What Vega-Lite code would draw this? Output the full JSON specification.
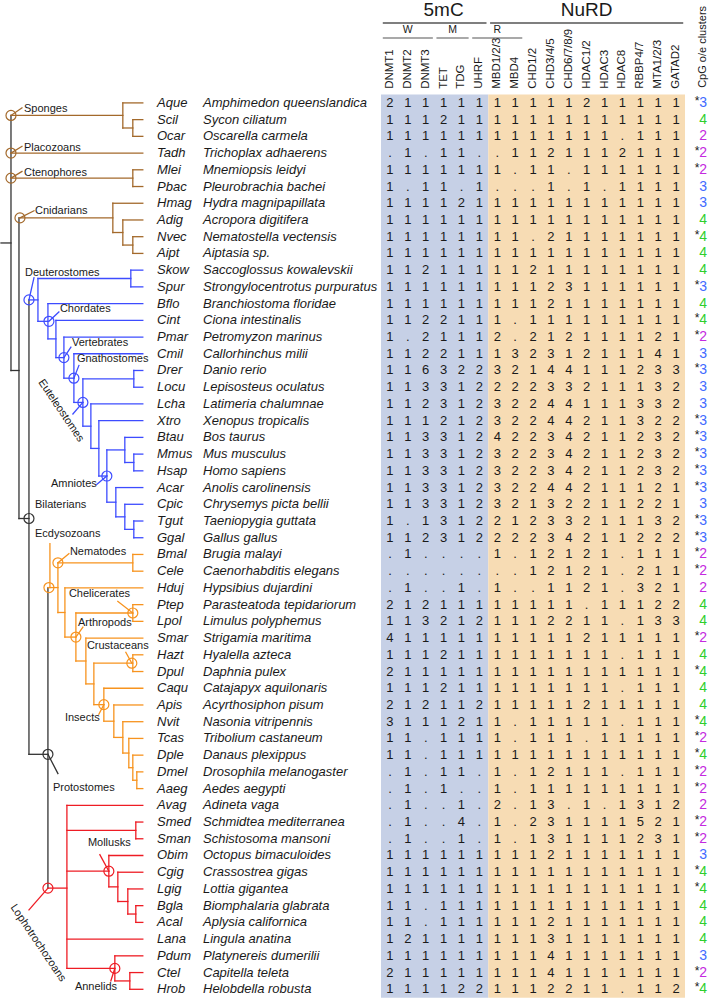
{
"$schema":"https://vega.github.io/schema/vega-lite/v6.json",
"width":709,"height":1001,
"autosize":{"type":"fit","contains":"padding"},
"padding":0,
"background":"white",
"config":{"view":{"stroke":null},"text":{"font":"Liberation Sans","color":"#1a1a1a"}},
"datasets":{
"species":[
{"row":1,"ab":"Aque","name":"Amphimedon queenslandica","DNMT1":"2","DNMT2":"1","DNMT3":"1","TET":"1","TDG":"1","UHRF":"1","MBD1/2/3":"1","MBD4":"1","CHD1/2":"1","CHD3/4/5":"1","CHD6/7/8/9":"1","HDAC1/2":"2","HDAC3":"1","HDAC8":"1","RBBP4/7":"1","MTA1/2/3":"1","GATAD2":"1","star":"*","cpg":3},
{"row":2,"ab":"Scil","name":"Sycon ciliatum","DNMT1":"1","DNMT2":"1","DNMT3":"1","TET":"2","TDG":"1","UHRF":"1","MBD1/2/3":"1","MBD4":"1","CHD1/2":"1","CHD3/4/5":"1","CHD6/7/8/9":"1","HDAC1/2":"1","HDAC3":"1","HDAC8":"1","RBBP4/7":"1","MTA1/2/3":"1","GATAD2":"1","star":"","cpg":4},
{"row":3,"ab":"Ocar","name":"Oscarella carmela","DNMT1":"1","DNMT2":"1","DNMT3":"1","TET":"1","TDG":"1","UHRF":"1","MBD1/2/3":"1","MBD4":"1","CHD1/2":"1","CHD3/4/5":"1","CHD6/7/8/9":"1","HDAC1/2":"1","HDAC3":"1","HDAC8":".","RBBP4/7":"1","MTA1/2/3":"1","GATAD2":"1","star":"","cpg":2},
{"row":4,"ab":"Tadh","name":"Trichoplax adhaerens","DNMT1":".","DNMT2":"1","DNMT3":".","TET":"1","TDG":"1","UHRF":".","MBD1/2/3":".","MBD4":"1","CHD1/2":"1","CHD3/4/5":"2","CHD6/7/8/9":"1","HDAC1/2":"1","HDAC3":"1","HDAC8":"2","RBBP4/7":"1","MTA1/2/3":"1","GATAD2":"1","star":"*","cpg":2},
{"row":5,"ab":"Mlei","name":"Mnemiopsis leidyi","DNMT1":"1","DNMT2":"1","DNMT3":"1","TET":"1","TDG":"1","UHRF":"1","MBD1/2/3":"1","MBD4":".","CHD1/2":"1","CHD3/4/5":"1","CHD6/7/8/9":".","HDAC1/2":"1","HDAC3":"1","HDAC8":"1","RBBP4/7":"1","MTA1/2/3":"1","GATAD2":"1","star":"*","cpg":2},
{"row":6,"ab":"Pbac","name":"Pleurobrachia bachei","DNMT1":"1","DNMT2":".","DNMT3":"1","TET":"1","TDG":".","UHRF":"1","MBD1/2/3":".","MBD4":".","CHD1/2":".","CHD3/4/5":"1","CHD6/7/8/9":".","HDAC1/2":"1","HDAC3":".","HDAC8":"1","RBBP4/7":"1","MTA1/2/3":"1","GATAD2":"1","star":"","cpg":3},
{"row":7,"ab":"Hmag","name":"Hydra magnipapillata","DNMT1":"1","DNMT2":"1","DNMT3":"1","TET":"1","TDG":"2","UHRF":"1","MBD1/2/3":"1","MBD4":"1","CHD1/2":"1","CHD3/4/5":"1","CHD6/7/8/9":"1","HDAC1/2":"1","HDAC3":"1","HDAC8":"1","RBBP4/7":"1","MTA1/2/3":"1","GATAD2":"1","star":"","cpg":3},
{"row":8,"ab":"Adig","name":"Acropora digitifera","DNMT1":"1","DNMT2":"1","DNMT3":"1","TET":"1","TDG":"1","UHRF":"1","MBD1/2/3":"1","MBD4":"1","CHD1/2":"1","CHD3/4/5":"1","CHD6/7/8/9":"1","HDAC1/2":"1","HDAC3":"1","HDAC8":"1","RBBP4/7":"1","MTA1/2/3":"1","GATAD2":"1","star":"","cpg":4},
{"row":9,"ab":"Nvec","name":"Nematostella vectensis","DNMT1":"1","DNMT2":"1","DNMT3":"1","TET":"1","TDG":"1","UHRF":"1","MBD1/2/3":"1","MBD4":"1","CHD1/2":".","CHD3/4/5":"2","CHD6/7/8/9":"1","HDAC1/2":"1","HDAC3":"1","HDAC8":"1","RBBP4/7":"1","MTA1/2/3":"1","GATAD2":"1","star":"*","cpg":4},
{"row":10,"ab":"Aipt","name":"Aiptasia sp.","DNMT1":"1","DNMT2":"1","DNMT3":"1","TET":"1","TDG":"1","UHRF":"1","MBD1/2/3":"1","MBD4":"1","CHD1/2":"1","CHD3/4/5":"1","CHD6/7/8/9":"1","HDAC1/2":"1","HDAC3":"1","HDAC8":"1","RBBP4/7":"1","MTA1/2/3":"1","GATAD2":"1","star":"","cpg":4},
{"row":11,"ab":"Skow","name":"Saccoglossus kowalevskii","DNMT1":"1","DNMT2":"1","DNMT3":"2","TET":"1","TDG":"1","UHRF":"1","MBD1/2/3":"1","MBD4":"1","CHD1/2":"2","CHD3/4/5":"1","CHD6/7/8/9":"1","HDAC1/2":"1","HDAC3":"1","HDAC8":"1","RBBP4/7":"1","MTA1/2/3":"1","GATAD2":"1","star":"","cpg":4},
{"row":12,"ab":"Spur","name":"Strongylocentrotus purpuratus","DNMT1":"1","DNMT2":"1","DNMT3":"1","TET":"1","TDG":"1","UHRF":"1","MBD1/2/3":"1","MBD4":"1","CHD1/2":"1","CHD3/4/5":"2","CHD6/7/8/9":"3","HDAC1/2":"1","HDAC3":"1","HDAC8":"1","RBBP4/7":"1","MTA1/2/3":"1","GATAD2":"1","star":"*","cpg":3},
{"row":13,"ab":"Bflo","name":"Branchiostoma floridae","DNMT1":"1","DNMT2":"1","DNMT3":"1","TET":"1","TDG":"1","UHRF":"1","MBD1/2/3":"1","MBD4":"1","CHD1/2":"1","CHD3/4/5":"2","CHD6/7/8/9":"1","HDAC1/2":"1","HDAC3":"1","HDAC8":"1","RBBP4/7":"1","MTA1/2/3":"1","GATAD2":"1","star":"","cpg":4},
{"row":14,"ab":"Cint","name":"Ciona intestinalis","DNMT1":"1","DNMT2":"1","DNMT3":"2","TET":"2","TDG":"1","UHRF":"1","MBD1/2/3":"1","MBD4":".","CHD1/2":"1","CHD3/4/5":"1","CHD6/7/8/9":"1","HDAC1/2":"1","HDAC3":"1","HDAC8":"1","RBBP4/7":"1","MTA1/2/3":"1","GATAD2":"1","star":"*","cpg":4},
{"row":15,"ab":"Pmar","name":"Petromyzon marinus","DNMT1":"1","DNMT2":".","DNMT3":"2","TET":"1","TDG":"1","UHRF":"1","MBD1/2/3":"2","MBD4":".","CHD1/2":"2","CHD3/4/5":"1","CHD6/7/8/9":"2","HDAC1/2":"1","HDAC3":"1","HDAC8":"1","RBBP4/7":"1","MTA1/2/3":"2","GATAD2":"1","star":"*","cpg":2},
{"row":16,"ab":"Cmil","name":"Callorhinchus milii","DNMT1":"1","DNMT2":"1","DNMT3":"2","TET":"2","TDG":"1","UHRF":"1","MBD1/2/3":"1","MBD4":"3","CHD1/2":"2","CHD3/4/5":"3","CHD6/7/8/9":"1","HDAC1/2":"2","HDAC3":"1","HDAC8":"1","RBBP4/7":"1","MTA1/2/3":"4","GATAD2":"1","star":"","cpg":3},
{"row":17,"ab":"Drer","name":"Danio rerio","DNMT1":"1","DNMT2":"1","DNMT3":"6","TET":"3","TDG":"2","UHRF":"2","MBD1/2/3":"3","MBD4":"2","CHD1/2":"1","CHD3/4/5":"4","CHD6/7/8/9":"4","HDAC1/2":"1","HDAC3":"1","HDAC8":"1","RBBP4/7":"2","MTA1/2/3":"3","GATAD2":"3","star":"*","cpg":3},
{"row":18,"ab":"Locu","name":"Lepisosteus oculatus","DNMT1":"1","DNMT2":"1","DNMT3":"3","TET":"3","TDG":"1","UHRF":"2","MBD1/2/3":"2","MBD4":"2","CHD1/2":"2","CHD3/4/5":"3","CHD6/7/8/9":"3","HDAC1/2":"2","HDAC3":"1","HDAC8":"1","RBBP4/7":"1","MTA1/2/3":"3","GATAD2":"2","star":"","cpg":3},
{"row":19,"ab":"Lcha","name":"Latimeria chalumnae","DNMT1":"1","DNMT2":"1","DNMT3":"2","TET":"3","TDG":"1","UHRF":"2","MBD1/2/3":"3","MBD4":"2","CHD1/2":"2","CHD3/4/5":"4","CHD6/7/8/9":"4","HDAC1/2":"1","HDAC3":"1","HDAC8":"1","RBBP4/7":"3","MTA1/2/3":"3","GATAD2":"2","star":"","cpg":3},
{"row":20,"ab":"Xtro","name":"Xenopus tropicalis","DNMT1":"1","DNMT2":"1","DNMT3":"1","TET":"2","TDG":"1","UHRF":"2","MBD1/2/3":"3","MBD4":"2","CHD1/2":"2","CHD3/4/5":"4","CHD6/7/8/9":"4","HDAC1/2":"2","HDAC3":"1","HDAC8":"1","RBBP4/7":"3","MTA1/2/3":"2","GATAD2":"2","star":"*","cpg":3},
{"row":21,"ab":"Btau","name":"Bos taurus","DNMT1":"1","DNMT2":"1","DNMT3":"3","TET":"3","TDG":"1","UHRF":"2","MBD1/2/3":"4","MBD4":"2","CHD1/2":"2","CHD3/4/5":"3","CHD6/7/8/9":"4","HDAC1/2":"2","HDAC3":"1","HDAC8":"1","RBBP4/7":"2","MTA1/2/3":"3","GATAD2":"2","star":"*","cpg":3},
{"row":22,"ab":"Mmus","name":"Mus musculus","DNMT1":"1","DNMT2":"1","DNMT3":"3","TET":"3","TDG":"1","UHRF":"2","MBD1/2/3":"3","MBD4":"2","CHD1/2":"2","CHD3/4/5":"3","CHD6/7/8/9":"4","HDAC1/2":"2","HDAC3":"1","HDAC8":"1","RBBP4/7":"2","MTA1/2/3":"3","GATAD2":"2","star":"*","cpg":3},
{"row":23,"ab":"Hsap","name":"Homo sapiens","DNMT1":"1","DNMT2":"1","DNMT3":"3","TET":"3","TDG":"1","UHRF":"2","MBD1/2/3":"3","MBD4":"2","CHD1/2":"2","CHD3/4/5":"3","CHD6/7/8/9":"4","HDAC1/2":"2","HDAC3":"1","HDAC8":"1","RBBP4/7":"2","MTA1/2/3":"3","GATAD2":"2","star":"*","cpg":3},
{"row":24,"ab":"Acar","name":"Anolis carolinensis","DNMT1":"1","DNMT2":"1","DNMT3":"3","TET":"3","TDG":"1","UHRF":"2","MBD1/2/3":"3","MBD4":"2","CHD1/2":"2","CHD3/4/5":"4","CHD6/7/8/9":"4","HDAC1/2":"2","HDAC3":"1","HDAC8":"1","RBBP4/7":"1","MTA1/2/3":"2","GATAD2":"1","star":"*","cpg":3},
{"row":25,"ab":"Cpic","name":"Chrysemys picta bellii","DNMT1":"1","DNMT2":"1","DNMT3":"3","TET":"3","TDG":"1","UHRF":"2","MBD1/2/3":"3","MBD4":"2","CHD1/2":"1","CHD3/4/5":"3","CHD6/7/8/9":"2","HDAC1/2":"2","HDAC3":"1","HDAC8":"1","RBBP4/7":"2","MTA1/2/3":"2","GATAD2":"1","star":"","cpg":3},
{"row":26,"ab":"Tgut","name":"Taeniopygia guttata","DNMT1":"1","DNMT2":".","DNMT3":"1","TET":"3","TDG":"1","UHRF":"2","MBD1/2/3":"2","MBD4":"1","CHD1/2":"2","CHD3/4/5":"3","CHD6/7/8/9":"3","HDAC1/2":"2","HDAC3":"1","HDAC8":"1","RBBP4/7":"1","MTA1/2/3":"3","GATAD2":"2","star":"*","cpg":3},
{"row":27,"ab":"Ggal","name":"Gallus gallus","DNMT1":"1","DNMT2":"1","DNMT3":"2","TET":"3","TDG":"1","UHRF":"2","MBD1/2/3":"2","MBD4":"2","CHD1/2":"2","CHD3/4/5":"3","CHD6/7/8/9":"4","HDAC1/2":"2","HDAC3":"1","HDAC8":"1","RBBP4/7":"2","MTA1/2/3":"2","GATAD2":"2","star":"*","cpg":3},
{"row":28,"ab":"Bmal","name":"Brugia malayi","DNMT1":".","DNMT2":"1","DNMT3":".","TET":".","TDG":".","UHRF":".","MBD1/2/3":"1","MBD4":".","CHD1/2":"1","CHD3/4/5":"2","CHD6/7/8/9":"1","HDAC1/2":"2","HDAC3":"1","HDAC8":".","RBBP4/7":"1","MTA1/2/3":"1","GATAD2":"1","star":"*","cpg":2},
{"row":29,"ab":"Cele","name":"Caenorhabditis elegans","DNMT1":".","DNMT2":".","DNMT3":".","TET":".","TDG":".","UHRF":".","MBD1/2/3":".","MBD4":".","CHD1/2":"1","CHD3/4/5":"2","CHD6/7/8/9":"1","HDAC1/2":"2","HDAC3":"1","HDAC8":".","RBBP4/7":"2","MTA1/2/3":"1","GATAD2":"1","star":"*","cpg":2},
{"row":30,"ab":"Hduj","name":"Hypsibius dujardini","DNMT1":".","DNMT2":"1","DNMT3":".","TET":".","TDG":"1","UHRF":".","MBD1/2/3":"1","MBD4":".","CHD1/2":".","CHD3/4/5":"1","CHD6/7/8/9":"1","HDAC1/2":"2","HDAC3":"1","HDAC8":".","RBBP4/7":"3","MTA1/2/3":"2","GATAD2":"1","star":"","cpg":2},
{"row":31,"ab":"Ptep","name":"Parasteatoda tepidariorum","DNMT1":"2","DNMT2":"1","DNMT3":"2","TET":"1","TDG":"1","UHRF":"1","MBD1/2/3":"1","MBD4":"1","CHD1/2":"1","CHD3/4/5":"1","CHD6/7/8/9":"1","HDAC1/2":".","HDAC3":"1","HDAC8":"1","RBBP4/7":"1","MTA1/2/3":"2","GATAD2":"2","star":"","cpg":4},
{"row":32,"ab":"Lpol","name":"Limulus polyphemus","DNMT1":"1","DNMT2":"1","DNMT3":"3","TET":"2","TDG":"1","UHRF":"2","MBD1/2/3":"1","MBD4":"1","CHD1/2":"1","CHD3/4/5":"2","CHD6/7/8/9":"2","HDAC1/2":"1","HDAC3":"1","HDAC8":".","RBBP4/7":"1","MTA1/2/3":"3","GATAD2":"3","star":"","cpg":4},
{"row":33,"ab":"Smar","name":"Strigamia maritima","DNMT1":"4","DNMT2":"1","DNMT3":"1","TET":"1","TDG":"1","UHRF":"1","MBD1/2/3":"1","MBD4":"1","CHD1/2":"1","CHD3/4/5":"1","CHD6/7/8/9":"1","HDAC1/2":"2","HDAC3":"1","HDAC8":"1","RBBP4/7":"1","MTA1/2/3":"1","GATAD2":"1","star":"*","cpg":2},
{"row":34,"ab":"Hazt","name":"Hyalella azteca","DNMT1":"1","DNMT2":"1","DNMT3":"1","TET":"2","TDG":"1","UHRF":"1","MBD1/2/3":"1","MBD4":"1","CHD1/2":"1","CHD3/4/5":"1","CHD6/7/8/9":"1","HDAC1/2":"1","HDAC3":"1","HDAC8":".","RBBP4/7":"1","MTA1/2/3":"1","GATAD2":"1","star":"","cpg":4},
{"row":35,"ab":"Dpul","name":"Daphnia pulex","DNMT1":"2","DNMT2":"1","DNMT3":"1","TET":"1","TDG":"1","UHRF":"1","MBD1/2/3":"1","MBD4":"1","CHD1/2":"1","CHD3/4/5":"1","CHD6/7/8/9":"1","HDAC1/2":"1","HDAC3":"1","HDAC8":"1","RBBP4/7":"1","MTA1/2/3":"1","GATAD2":"1","star":"*","cpg":4},
{"row":36,"ab":"Caqu","name":"Catajapyx aquilonaris","DNMT1":"1","DNMT2":"1","DNMT3":"1","TET":"2","TDG":"1","UHRF":"1","MBD1/2/3":"1","MBD4":"1","CHD1/2":"1","CHD3/4/5":"1","CHD6/7/8/9":"1","HDAC1/2":"1","HDAC3":"1","HDAC8":".","RBBP4/7":"1","MTA1/2/3":"1","GATAD2":"1","star":"","cpg":4},
{"row":37,"ab":"Apis","name":"Acyrthosiphon pisum","DNMT1":"2","DNMT2":"1","DNMT3":"2","TET":"1","TDG":"1","UHRF":"2","MBD1/2/3":"1","MBD4":"1","CHD1/2":"1","CHD3/4/5":"1","CHD6/7/8/9":"1","HDAC1/2":"2","HDAC3":"1","HDAC8":"1","RBBP4/7":"1","MTA1/2/3":"1","GATAD2":"1","star":"","cpg":4},
{"row":38,"ab":"Nvit","name":"Nasonia vitripennis","DNMT1":"3","DNMT2":"1","DNMT3":"1","TET":"1","TDG":"2","UHRF":"1","MBD1/2/3":"1","MBD4":".","CHD1/2":"1","CHD3/4/5":"1","CHD6/7/8/9":"1","HDAC1/2":"1","HDAC3":"1","HDAC8":".","RBBP4/7":"1","MTA1/2/3":"1","GATAD2":"1","star":"*","cpg":4},
{"row":39,"ab":"Tcas","name":"Tribolium castaneum","DNMT1":"1","DNMT2":"1","DNMT3":".","TET":"1","TDG":"1","UHRF":"1","MBD1/2/3":"1","MBD4":".","CHD1/2":"1","CHD3/4/5":"1","CHD6/7/8/9":"1","HDAC1/2":".","HDAC3":"1","HDAC8":"1","RBBP4/7":"1","MTA1/2/3":"1","GATAD2":"1","star":"*","cpg":2},
{"row":40,"ab":"Dple","name":"Danaus plexippus","DNMT1":"1","DNMT2":"1","DNMT3":".","TET":"1","TDG":"1","UHRF":"1","MBD1/2/3":"1","MBD4":"1","CHD1/2":"1","CHD3/4/5":"1","CHD6/7/8/9":"1","HDAC1/2":"1","HDAC3":"1","HDAC8":"1","RBBP4/7":"1","MTA1/2/3":"1","GATAD2":"1","star":"*","cpg":4},
{"row":41,"ab":"Dmel","name":"Drosophila melanogaster","DNMT1":".","DNMT2":"1","DNMT3":".","TET":"1","TDG":"1","UHRF":".","MBD1/2/3":"1","MBD4":".","CHD1/2":"1","CHD3/4/5":"2","CHD6/7/8/9":"1","HDAC1/2":"1","HDAC3":"1","HDAC8":".","RBBP4/7":"1","MTA1/2/3":"1","GATAD2":"1","star":"*","cpg":2},
{"row":42,"ab":"Aaeg","name":"Aedes aegypti","DNMT1":".","DNMT2":"1","DNMT3":".","TET":"1","TDG":".","UHRF":".","MBD1/2/3":"1","MBD4":".","CHD1/2":"1","CHD3/4/5":"1","CHD6/7/8/9":"1","HDAC1/2":"1","HDAC3":"1","HDAC8":"1","RBBP4/7":"1","MTA1/2/3":"1","GATAD2":"1","star":"*","cpg":2},
{"row":43,"ab":"Avag","name":"Adineta vaga","DNMT1":".","DNMT2":"1","DNMT3":".","TET":".","TDG":"1","UHRF":".","MBD1/2/3":"2","MBD4":".","CHD1/2":"1","CHD3/4/5":"3","CHD6/7/8/9":".","HDAC1/2":"1","HDAC3":".","HDAC8":"1","RBBP4/7":"3","MTA1/2/3":"1","GATAD2":"2","star":"","cpg":2},
{"row":44,"ab":"Smed","name":"Schmidtea mediterranea","DNMT1":".","DNMT2":"1","DNMT3":".","TET":".","TDG":"4","UHRF":".","MBD1/2/3":"1","MBD4":".","CHD1/2":"2","CHD3/4/5":"3","CHD6/7/8/9":"1","HDAC1/2":"1","HDAC3":"1","HDAC8":"1","RBBP4/7":"5","MTA1/2/3":"2","GATAD2":"1","star":"*","cpg":2},
{"row":45,"ab":"Sman","name":"Schistosoma mansoni","DNMT1":".","DNMT2":"1","DNMT3":".","TET":".","TDG":"1","UHRF":".","MBD1/2/3":"1","MBD4":".","CHD1/2":"1","CHD3/4/5":"3","CHD6/7/8/9":"1","HDAC1/2":"1","HDAC3":"1","HDAC8":"1","RBBP4/7":"2","MTA1/2/3":"3","GATAD2":"1","star":"*","cpg":2},
{"row":46,"ab":"Obim","name":"Octopus bimaculoides","DNMT1":"1","DNMT2":"1","DNMT3":"1","TET":"1","TDG":"1","UHRF":"1","MBD1/2/3":"1","MBD4":"1","CHD1/2":"1","CHD3/4/5":"2","CHD6/7/8/9":"1","HDAC1/2":"1","HDAC3":"1","HDAC8":"1","RBBP4/7":"1","MTA1/2/3":"1","GATAD2":"1","star":"","cpg":3},
{"row":47,"ab":"Cgig","name":"Crassostrea gigas","DNMT1":"1","DNMT2":"1","DNMT3":"1","TET":"1","TDG":"1","UHRF":"1","MBD1/2/3":"1","MBD4":"1","CHD1/2":"1","CHD3/4/5":"1","CHD6/7/8/9":"1","HDAC1/2":"1","HDAC3":"1","HDAC8":"1","RBBP4/7":"1","MTA1/2/3":"1","GATAD2":"1","star":"*","cpg":4},
{"row":48,"ab":"Lgig","name":"Lottia gigantea","DNMT1":"1","DNMT2":"1","DNMT3":"1","TET":"1","TDG":"1","UHRF":"1","MBD1/2/3":"1","MBD4":"1","CHD1/2":"1","CHD3/4/5":"1","CHD6/7/8/9":"1","HDAC1/2":"1","HDAC3":"1","HDAC8":"1","RBBP4/7":"1","MTA1/2/3":"1","GATAD2":"1","star":"*","cpg":4},
{"row":49,"ab":"Bgla","name":"Biomphalaria glabrata","DNMT1":"1","DNMT2":"1","DNMT3":".","TET":"1","TDG":"1","UHRF":"1","MBD1/2/3":"1","MBD4":"1","CHD1/2":"1","CHD3/4/5":"1","CHD6/7/8/9":"1","HDAC1/2":"1","HDAC3":"1","HDAC8":"1","RBBP4/7":"1","MTA1/2/3":"1","GATAD2":"1","star":"","cpg":4},
{"row":50,"ab":"Acal","name":"Aplysia californica","DNMT1":"1","DNMT2":"1","DNMT3":".","TET":"1","TDG":"1","UHRF":"1","MBD1/2/3":"1","MBD4":"1","CHD1/2":"1","CHD3/4/5":"2","CHD6/7/8/9":"1","HDAC1/2":"1","HDAC3":"1","HDAC8":"1","RBBP4/7":"1","MTA1/2/3":"1","GATAD2":"1","star":"","cpg":4},
{"row":51,"ab":"Lana","name":"Lingula anatina","DNMT1":"1","DNMT2":"2","DNMT3":"1","TET":"1","TDG":"1","UHRF":"1","MBD1/2/3":"1","MBD4":"1","CHD1/2":"1","CHD3/4/5":"3","CHD6/7/8/9":"1","HDAC1/2":"1","HDAC3":"1","HDAC8":"1","RBBP4/7":"1","MTA1/2/3":"1","GATAD2":"1","star":"","cpg":4},
{"row":52,"ab":"Pdum","name":"Platynereis dumerilii","DNMT1":"1","DNMT2":"1","DNMT3":"1","TET":"1","TDG":"1","UHRF":"1","MBD1/2/3":"1","MBD4":"1","CHD1/2":"1","CHD3/4/5":"4","CHD6/7/8/9":"1","HDAC1/2":"1","HDAC3":"1","HDAC8":"1","RBBP4/7":"1","MTA1/2/3":"1","GATAD2":"1","star":"","cpg":3},
{"row":53,"ab":"Ctel","name":"Capitella teleta","DNMT1":"2","DNMT2":"1","DNMT3":"1","TET":"1","TDG":"1","UHRF":"1","MBD1/2/3":"1","MBD4":"1","CHD1/2":"1","CHD3/4/5":"4","CHD6/7/8/9":"1","HDAC1/2":"1","HDAC3":"1","HDAC8":"1","RBBP4/7":"1","MTA1/2/3":"1","GATAD2":"1","star":"*","cpg":2},
{"row":54,"ab":"Hrob","name":"Helobdella robusta","DNMT1":"1","DNMT2":"1","DNMT3":"1","TET":"1","TDG":"2","UHRF":"2","MBD1/2/3":"1","MBD4":"1","CHD1/2":"1","CHD3/4/5":"2","CHD6/7/8/9":"2","HDAC1/2":"1","HDAC3":"1","HDAC8":".","RBBP4/7":"1","MTA1/2/3":"1","GATAD2":"2","star":"*","cpg":4}
],
"seg":[
{"x":0,"x2":10,"row":9.375,"row2":9.375,"c":"k"},
{"x":10,"x2":10,"row":1.75,"row2":17.0,"c":"k"},
{"x":10,"x2":18,"row":17.0,"row2":17.0,"c":"k"},
{"x":18,"x2":18,"row":7.875,"row2":25.85,"c":"k"},
{"x":18,"x2":28,"row":25.85,"row2":25.85,"c":"k"},
{"x":28,"x2":28,"row":12.78,"row2":39.95,"c":"k"},
{"x":28,"x2":47,"row":39.95,"row2":39.95,"c":"k"},
{"x":47,"x2":47,"row":29.98,"row2":47.95,"c":"k"},
{"x":10,"x2":122,"row":1.75,"row2":1.75,"c":"br"},
{"x":122,"x2":122,"row":1,"row2":2.5,"c":"br"},
{"x":122,"x2":142,"row":1,"row2":1,"c":"br"},
{"x":122,"x2":132,"row":2.5,"row2":2.5,"c":"br"},
{"x":132,"x2":132,"row":2,"row2":3,"c":"br"},
{"x":132,"x2":142,"row":2,"row2":2,"c":"br"},
{"x":132,"x2":142,"row":3,"row2":3,"c":"br"},
{"x":10,"x2":142,"row":4,"row2":4,"c":"br"},
{"x":10,"x2":132,"row":5.5,"row2":5.5,"c":"br"},
{"x":132,"x2":132,"row":5,"row2":6,"c":"br"},
{"x":132,"x2":142,"row":5,"row2":5,"c":"br"},
{"x":132,"x2":142,"row":6,"row2":6,"c":"br"},
{"x":18,"x2":112,"row":7.875,"row2":7.875,"c":"br"},
{"x":112,"x2":112,"row":7,"row2":8.75,"c":"br"},
{"x":112,"x2":142,"row":7,"row2":7,"c":"br"},
{"x":112,"x2":122,"row":8.75,"row2":8.75,"c":"br"},
{"x":122,"x2":122,"row":8,"row2":9.5,"c":"br"},
{"x":122,"x2":142,"row":8,"row2":8,"c":"br"},
{"x":122,"x2":132,"row":9.5,"row2":9.5,"c":"br"},
{"x":132,"x2":132,"row":9,"row2":10,"c":"br"},
{"x":132,"x2":142,"row":9,"row2":9,"c":"br"},
{"x":132,"x2":142,"row":10,"row2":10,"c":"br"},
{"x":28,"x2":37,"row":12.78,"row2":12.78,"c":"bl"},
{"x":37,"x2":37,"row":11.5,"row2":14.06,"c":"bl"},
{"x":37,"x2":130,"row":11.5,"row2":11.5,"c":"bl"},
{"x":130,"x2":130,"row":11,"row2":12,"c":"bl"},
{"x":130,"x2":142,"row":11,"row2":11,"c":"bl"},
{"x":130,"x2":142,"row":12,"row2":12,"c":"bl"},
{"x":37,"x2":47,"row":14.06,"row2":14.06,"c":"bl"},
{"x":47,"x2":47,"row":13,"row2":15.11,"c":"bl"},
{"x":47,"x2":142,"row":13,"row2":13,"c":"bl"},
{"x":47,"x2":55,"row":15.11,"row2":15.11,"c":"bl"},
{"x":55,"x2":55,"row":14,"row2":16.23,"c":"bl"},
{"x":55,"x2":142,"row":14,"row2":14,"c":"bl"},
{"x":55,"x2":63,"row":16.23,"row2":16.23,"c":"bl"},
{"x":63,"x2":63,"row":15,"row2":17.46,"c":"bl"},
{"x":63,"x2":142,"row":15,"row2":15,"c":"bl"},
{"x":63,"x2":73,"row":17.46,"row2":17.46,"c":"bl"},
{"x":73,"x2":73,"row":16,"row2":18.91,"c":"bl"},
{"x":73,"x2":142,"row":16,"row2":16,"c":"bl"},
{"x":73,"x2":82,"row":18.91,"row2":18.91,"c":"bl"},
{"x":82,"x2":82,"row":17.5,"row2":20.33,"c":"bl"},
{"x":82,"x2":133,"row":17.5,"row2":17.5,"c":"bl"},
{"x":133,"x2":133,"row":17,"row2":18,"c":"bl"},
{"x":133,"x2":142,"row":17,"row2":17,"c":"bl"},
{"x":133,"x2":142,"row":18,"row2":18,"c":"bl"},
{"x":82,"x2":90,"row":20.33,"row2":20.33,"c":"bl"},
{"x":90,"x2":90,"row":19,"row2":21.66,"c":"bl"},
{"x":90,"x2":142,"row":19,"row2":19,"c":"bl"},
{"x":90,"x2":98,"row":21.66,"row2":21.66,"c":"bl"},
{"x":98,"x2":98,"row":20,"row2":23.31,"c":"bl"},
{"x":98,"x2":142,"row":20,"row2":20,"c":"bl"},
{"x":98,"x2":106,"row":23.31,"row2":23.31,"c":"bl"},
{"x":106,"x2":106,"row":21.75,"row2":24.875,"c":"bl"},
{"x":106,"x2":124,"row":21.75,"row2":21.75,"c":"bl"},
{"x":124,"x2":124,"row":21,"row2":22.5,"c":"bl"},
{"x":124,"x2":142,"row":21,"row2":21,"c":"bl"},
{"x":124,"x2":133,"row":22.5,"row2":22.5,"c":"bl"},
{"x":133,"x2":133,"row":22,"row2":23,"c":"bl"},
{"x":133,"x2":142,"row":22,"row2":22,"c":"bl"},
{"x":133,"x2":142,"row":23,"row2":23,"c":"bl"},
{"x":106,"x2":115,"row":24.875,"row2":24.875,"c":"bl"},
{"x":115,"x2":115,"row":24,"row2":25.75,"c":"bl"},
{"x":115,"x2":142,"row":24,"row2":24,"c":"bl"},
{"x":115,"x2":124,"row":25.75,"row2":25.75,"c":"bl"},
{"x":124,"x2":124,"row":25,"row2":26.5,"c":"bl"},
{"x":124,"x2":142,"row":25,"row2":25,"c":"bl"},
{"x":124,"x2":133,"row":26.5,"row2":26.5,"c":"bl"},
{"x":133,"x2":133,"row":26,"row2":27,"c":"bl"},
{"x":133,"x2":142,"row":26,"row2":26,"c":"bl"},
{"x":133,"x2":142,"row":27,"row2":27,"c":"bl"},
{"x":47,"x2":57,"row":29.98,"row2":29.98,"c":"or"},
{"x":57,"x2":57,"row":28.5,"row2":31.47,"c":"or"},
{"x":57,"x2":132,"row":28.5,"row2":28.5,"c":"or"},
{"x":132,"x2":132,"row":28,"row2":29,"c":"or"},
{"x":132,"x2":142,"row":28,"row2":28,"c":"or"},
{"x":132,"x2":142,"row":29,"row2":29,"c":"or"},
{"x":57,"x2":64,"row":31.47,"row2":31.47,"c":"or"},
{"x":64,"x2":64,"row":30,"row2":32.94,"c":"or"},
{"x":64,"x2":142,"row":30,"row2":30,"c":"or"},
{"x":64,"x2":75,"row":32.94,"row2":32.94,"c":"or"},
{"x":75,"x2":75,"row":31.5,"row2":34.37,"c":"or"},
{"x":75,"x2":132,"row":31.5,"row2":31.5,"c":"or"},
{"x":132,"x2":132,"row":31,"row2":32,"c":"or"},
{"x":132,"x2":142,"row":31,"row2":31,"c":"or"},
{"x":132,"x2":142,"row":32,"row2":32,"c":"or"},
{"x":75,"x2":85,"row":34.37,"row2":34.37,"c":"or"},
{"x":85,"x2":85,"row":33,"row2":35.74,"c":"or"},
{"x":85,"x2":142,"row":33,"row2":33,"c":"or"},
{"x":85,"x2":93,"row":35.74,"row2":35.74,"c":"or"},
{"x":93,"x2":93,"row":34.5,"row2":36.98,"c":"or"},
{"x":93,"x2":132,"row":34.5,"row2":34.5,"c":"or"},
{"x":132,"x2":132,"row":34,"row2":35,"c":"or"},
{"x":132,"x2":142,"row":34,"row2":34,"c":"or"},
{"x":132,"x2":142,"row":35,"row2":35,"c":"or"},
{"x":93,"x2":103,"row":36.98,"row2":36.98,"c":"or"},
{"x":103,"x2":103,"row":36,"row2":37.97,"c":"or"},
{"x":103,"x2":142,"row":36,"row2":36,"c":"or"},
{"x":103,"x2":113,"row":37.97,"row2":37.97,"c":"or"},
{"x":113,"x2":113,"row":37,"row2":38.94,"c":"or"},
{"x":113,"x2":142,"row":37,"row2":37,"c":"or"},
{"x":113,"x2":122,"row":38.94,"row2":38.94,"c":"or"},
{"x":122,"x2":122,"row":38,"row2":39.875,"c":"or"},
{"x":122,"x2":142,"row":38,"row2":38,"c":"or"},
{"x":122,"x2":128,"row":39.875,"row2":39.875,"c":"or"},
{"x":128,"x2":128,"row":39,"row2":40.75,"c":"or"},
{"x":128,"x2":142,"row":39,"row2":39,"c":"or"},
{"x":128,"x2":132,"row":40.75,"row2":40.75,"c":"or"},
{"x":132,"x2":132,"row":40,"row2":41.5,"c":"or"},
{"x":132,"x2":142,"row":40,"row2":40,"c":"or"},
{"x":132,"x2":136,"row":41.5,"row2":41.5,"c":"or"},
{"x":136,"x2":136,"row":41,"row2":42,"c":"or"},
{"x":136,"x2":142,"row":41,"row2":41,"c":"or"},
{"x":136,"x2":142,"row":42,"row2":42,"c":"or"},
{"x":47,"x2":66,"row":47.95,"row2":47.95,"c":"rd"},
{"x":66,"x2":66,"row":43,"row2":52.75,"c":"rd"},
{"x":66,"x2":142,"row":43,"row2":43,"c":"rd"},
{"x":66,"x2":135,"row":44.5,"row2":44.5,"c":"rd"},
{"x":135,"x2":135,"row":44,"row2":45,"c":"rd"},
{"x":135,"x2":142,"row":44,"row2":44,"c":"rd"},
{"x":135,"x2":142,"row":45,"row2":45,"c":"rd"},
{"x":66,"x2":108,"row":46.94,"row2":46.94,"c":"rd"},
{"x":108,"x2":108,"row":46,"row2":47.875,"c":"rd"},
{"x":108,"x2":142,"row":46,"row2":46,"c":"rd"},
{"x":108,"x2":117,"row":47.875,"row2":47.875,"c":"rd"},
{"x":117,"x2":117,"row":47,"row2":48.75,"c":"rd"},
{"x":117,"x2":142,"row":47,"row2":47,"c":"rd"},
{"x":117,"x2":127,"row":48.75,"row2":48.75,"c":"rd"},
{"x":127,"x2":127,"row":48,"row2":49.5,"c":"rd"},
{"x":127,"x2":142,"row":48,"row2":48,"c":"rd"},
{"x":127,"x2":135,"row":49.5,"row2":49.5,"c":"rd"},
{"x":135,"x2":135,"row":49,"row2":50,"c":"rd"},
{"x":135,"x2":142,"row":49,"row2":49,"c":"rd"},
{"x":135,"x2":142,"row":50,"row2":50,"c":"rd"},
{"x":66,"x2":142,"row":51,"row2":51,"c":"rd"},
{"x":66,"x2":114,"row":52.75,"row2":52.75,"c":"rd"},
{"x":114,"x2":114,"row":52,"row2":53.5,"c":"rd"},
{"x":114,"x2":142,"row":52,"row2":52,"c":"rd"},
{"x":114,"x2":129,"row":53.5,"row2":53.5,"c":"rd"},
{"x":129,"x2":129,"row":53,"row2":54,"c":"rd"},
{"x":129,"x2":142,"row":53,"row2":53,"c":"rd"},
{"x":129,"x2":142,"row":54,"row2":54,"c":"rd"},
{"x":10,"x2":21,"row":1.75,"row2":1.3,"c":"br"},
{"x":10,"x2":21,"row":4,"row2":3.6,"c":"br"},
{"x":10,"x2":21,"row":5.5,"row2":5.1,"c":"br"},
{"x":19,"x2":33,"row":7.875,"row2":7.45,"c":"br"},
{"x":28,"x2":33,"row":12.78,"row2":11.45,"c":"bl"},
{"x":48,"x2":58,"row":14.06,"row2":13.5,"c":"bl"},
{"x":63,"x2":70,"row":16.23,"row2":15.6,"c":"bl"},
{"x":73,"x2":78,"row":17.46,"row2":16.7,"c":"bl"},
{"x":82,"x2":72,"row":18.91,"row2":19.6,"c":"bl"},
{"x":106,"x2":96,"row":23.31,"row2":23.8,"c":"bl"},
{"x":49,"x2":49,"row":27.35,"row2":29.98,"c":"or"},
{"x":57,"x2":68,"row":28.5,"row2":27.95,"c":"or"},
{"x":132,"x2":117,"row":31.5,"row2":30.8,"c":"or"},
{"x":75,"x2":82,"row":32.94,"row2":32.35,"c":"or"},
{"x":131,"x2":125,"row":34.5,"row2":33.85,"c":"or"},
{"x":103,"x2":98,"row":36.98,"row2":37.55,"c":"or"},
{"x":47,"x2":57,"row":39.95,"row2":41.1,"c":"k"},
{"x":47,"x2":28,"row":47.95,"row2":49.25,"c":"rd"},
{"x":108,"x2":99,"row":46.94,"row2":45.95,"c":"rd"},
{"x":114,"x2":110,"row":52.75,"row2":53.5,"c":"rd"}
],
"nodes":[
{"x":10,"row":1.75,"c":"br"},{"x":10,"row":4,"c":"br"},{"x":10,"row":5.5,"c":"br"},{"x":19,"row":7.875,"c":"br"},
{"x":28,"row":12.78,"c":"bl"},{"x":48,"row":14.06,"c":"bl"},{"x":63,"row":16.23,"c":"bl"},{"x":73,"row":17.46,"c":"bl"},{"x":82,"row":18.91,"c":"bl"},{"x":106,"row":23.31,"c":"bl"},
{"x":28,"row":25.85,"c":"k"},
{"x":48,"row":29.98,"c":"or"},{"x":57,"row":28.5,"c":"or"},{"x":132,"row":31.5,"c":"or"},{"x":75,"row":32.94,"c":"or"},{"x":131,"row":34.5,"c":"or"},{"x":103,"row":36.98,"c":"or"},
{"x":47,"row":39.95,"c":"k"},
{"x":47,"row":47.95,"c":"rd"},{"x":108,"row":46.94,"c":"rd"},{"x":114,"row":52.75,"c":"rd"}
],
"clades":[
{"label":"Sponges","x":23,"row":1.36},{"label":"Placozoans","x":23,"row":3.69},{"label":"Ctenophores","x":23,"row":5.18},{"label":"Cnidarians","x":34,"row":7.45},
{"label":"Deuterostomes","x":24,"row":11.16},{"label":"Chordates","x":59,"row":13.3},{"label":"Vertebrates","x":71,"row":15.34},{"label":"Gnathostomes","x":76,"row":16.29},{"label":"Amniotes","x":50,"row":23.76},
{"label":"Bilaterians","x":34,"row":25.07},{"label":"Ecdysozoans","x":34,"row":26.8},{"label":"Nematodes","x":69,"row":27.88},{"label":"Chelicerates","x":68,"row":30.39},{"label":"Arthropods","x":77,"row":32.12},{"label":"Crustaceans","x":86,"row":33.5},{"label":"Insects","x":64,"row":37.8},
{"label":"Protostomes","x":52,"row":41.98},{"label":"Mollusks","x":87,"row":45.27},{"label":"Annelids","x":74,"row":53.87}
],
"cladesRot":[
{"label":"Euteleostomes","x":60,"row":19.4},{"label":"Lophotrochozoans","x":37,"row":51.24}
],
"panels":[
{"gene":"DNMT1","gene2":"UHRF","row":0.5,"row2":54.5,"panel":"5mC"},
{"gene":"MBD1/2/3","gene2":"GATAD2","row":0.5,"row2":54.5,"panel":"NuRD"}
],
"seps":[{"gene":"TET"},{"gene":"CHD1/2"},{"gene":"HDAC1/2"},{"gene":"RBBP4/7"},{"gene":"MTA1/2/3"},{"gene":"GATAD2"}],
"genes":[{"gene":"DNMT1","row":0.16},{"gene":"DNMT2","row":0.16},{"gene":"DNMT3","row":0.16},{"gene":"TET","row":0.16},{"gene":"TDG","row":0.16},{"gene":"UHRF","row":0.16},{"gene":"MBD1/2/3","row":0.16},{"gene":"MBD4","row":0.16},{"gene":"CHD1/2","row":0.16},{"gene":"CHD3/4/5","row":0.16},{"gene":"CHD6/7/8/9","row":0.16},{"gene":"HDAC1/2","row":0.16},{"gene":"HDAC3","row":0.16},{"gene":"HDAC8","row":0.16},{"gene":"RBBP4/7","row":0.16},{"gene":"MTA1/2/3","row":0.16},{"gene":"GATAD2","row":0.16}],
"cpgTitle":[{"label":"CpG o/e clusters","row":0.1}],
"groupsTop":[{"gene":"DNMT1","gene2":"UHRF","row":-3.78},{"gene":"MBD1/2/3","gene2":"GATAD2","row":-3.78}],
"groupsSub":[{"gene":"DNMT1","gene2":"DNMT3","row":-2.88},{"gene":"TET","gene2":"TDG","row":-2.88},{"gene":"UHRF","gene2":"MBD4","row":-2.88}],
"bigLabels":[{"label":"5mC","gene":"TET","row":-4.56},{"label":"NuRD","gene":"HDAC1/2","row":-4.56}],
"subLabelsMid":[{"label":"W","gene":"DNMT2","row":-3.36},{"label":"R","gene":"MBD1/2/3","row":-3.36}],
"subLabelsEdge":[{"label":"M","gene":"TDG","row":-3.36}]
},
"encoding":{"y":{"field":"row","type":"quantitative","scale":{"domain":[-5.093,54.70],"reverse":true,"zero":false,"nice":false},"axis":null}},
"resolve":{"scale":{"x":"independent","color":"independent"}},
"layer":[
{
"encoding":{"x":{"field":"x","type":"quantitative","scale":{"domain":[0,709],"zero":false,"nice":false},"axis":null}},
"layer":[
{"data":{"name":"seg"},"mark":{"type":"rule","strokeWidth":1.3,"strokeCap":"square"},
 "encoding":{"x2":{"field":"x2"},"y2":{"field":"row2"},"color":{"field":"c","type":"nominal","scale":{"domain":["k","br","bl","or","rd"],"range":["#333333","#a3692b","#3d4cff","#f7931e","#ee1c24"]},"legend":null}}},
{"data":{"name":"nodes"},"mark":{"type":"point","shape":"circle","filled":false,"size":100,"strokeWidth":1.2,"opacity":1},
 "encoding":{"color":{"field":"c","type":"nominal","scale":{"domain":["k","br","bl","or","rd"],"range":["#333333","#a3692b","#3d4cff","#f7931e","#ee1c24"]},"legend":null}}},
{"data":{"name":"clades"},"mark":{"type":"text","align":"left","baseline":"middle","fontSize":11},
 "encoding":{"text":{"field":"label"}}},
{"data":{"name":"cladesRot"},"mark":{"type":"text","align":"center","baseline":"middle","fontSize":11,"angle":56},
 "encoding":{"text":{"field":"label"}}}
]
},
{
"encoding":{"x":{"datum":"abbr","type":"nominal","scale":{"type":"point","domain":["abbr","fullname"],"range":[156,202],"padding":0},"axis":null}},
"layer":[
{"data":{"name":"species"},"mark":{"type":"text","align":"left","baseline":"middle","fontSize":13,"fontStyle":"italic"},
 "encoding":{"x":{"datum":"abbr","type":"nominal"},"text":{"field":"ab"}}},
{"data":{"name":"species"},"mark":{"type":"text","align":"left","baseline":"middle","fontSize":13,"fontStyle":"italic"},
 "encoding":{"x":{"datum":"fullname","type":"nominal"},"text":{"field":"name"}}}
]
},
{
"encoding":{"x":{"field":"gene","type":"nominal","scale":{"type":"band","domain":["DNMT1","DNMT2","DNMT3","TET","TDG","UHRF","MBD1/2/3","MBD4","CHD1/2","CHD3/4/5","CHD6/7/8/9","HDAC1/2","HDAC3","HDAC8","RBBP4/7","MTA1/2/3","GATAD2","CpG"],"range":[380,701.9],"paddingInner":0,"paddingOuter":0},"axis":null}},
"layer":[
{"data":{"name":"panels"},"mark":{"type":"rect"},
 "encoding":{"x":{"field":"gene","type":"nominal","bandPosition":0},"x2":{"field":"gene2","bandPosition":1},"y2":{"field":"row2"},
  "fill":{"field":"panel","type":"nominal","scale":{"domain":["5mC","NuRD"],"range":["#c6d0e6","#f7dcb4"]},"legend":null}}},
{"data":{"name":"seps"},"mark":{"type":"rule","color":"#555555","strokeWidth":1},
 "encoding":{"x":{"field":"gene","type":"nominal","bandPosition":0},"y":{"datum":0.5},"y2":{"datum":54.5}}},
{"data":{"name":"species"},"transform":[{"fold":["DNMT1","DNMT2","DNMT3","TET","TDG","UHRF","MBD1/2/3","MBD4","CHD1/2","CHD3/4/5","CHD6/7/8/9","HDAC1/2","HDAC3","HDAC8","RBBP4/7","MTA1/2/3","GATAD2"],"as":["gene","val"]}],
 "mark":{"type":"text","align":"center","baseline":"middle","fontSize":13,"color":"#1a1a1a"},
 "encoding":{"text":{"field":"val"}}},
{"data":{"name":"species"},"mark":{"type":"text","align":"right","baseline":"middle","fontSize":12,"dy":-2,"color":"#1a1a1a"},
 "encoding":{"x":{"datum":"CpG","bandPosition":0.8},"text":{"field":"star"}}},
{"data":{"name":"species"},"mark":{"type":"text","align":"left","baseline":"middle","fontSize":14},
 "encoding":{"x":{"datum":"CpG","bandPosition":0.8},"text":{"field":"cpg"},
  "color":{"field":"cpg","type":"nominal","scale":{"domain":[2,3,4],"range":["#c42ae0","#3f6bff","#2ecf2e"]},"legend":null}}},
{"data":{"name":"genes"},"mark":{"type":"text","angle":270,"align":"left","baseline":"middle","fontSize":11.5},
 "encoding":{"text":{"field":"gene"}}},
{"data":{"name":"cpgTitle"},"mark":{"type":"text","angle":270,"align":"left","baseline":"middle","fontSize":11},
 "encoding":{"x":{"datum":"CpG","bandPosition":1},"text":{"field":"label"}}},
{"data":{"name":"groupsTop"},"mark":{"type":"rule","color":"#555555","strokeWidth":1.5},
 "encoding":{"x":{"field":"gene","type":"nominal","bandPosition":0.1},"x2":{"field":"gene2","bandPosition":0.9}}},
{"data":{"name":"groupsSub"},"mark":{"type":"rule","color":"#555555","strokeWidth":1.2},
 "encoding":{"x":{"field":"gene","type":"nominal","bandPosition":0.1},"x2":{"field":"gene2","bandPosition":0.9}}},
{"data":{"name":"bigLabels"},"mark":{"type":"text","align":"center","baseline":"middle","fontSize":19},
 "encoding":{"text":{"field":"label"}}},
{"data":{"name":"subLabelsMid"},"mark":{"type":"text","align":"center","baseline":"middle","fontSize":10.5},
 "encoding":{"text":{"field":"label"}}},
{"data":{"name":"subLabelsEdge"},"mark":{"type":"text","align":"center","baseline":"middle","fontSize":10.5},
 "encoding":{"x":{"field":"gene","type":"nominal","bandPosition":0},"text":{"field":"label"}}}
]
}
]
}
